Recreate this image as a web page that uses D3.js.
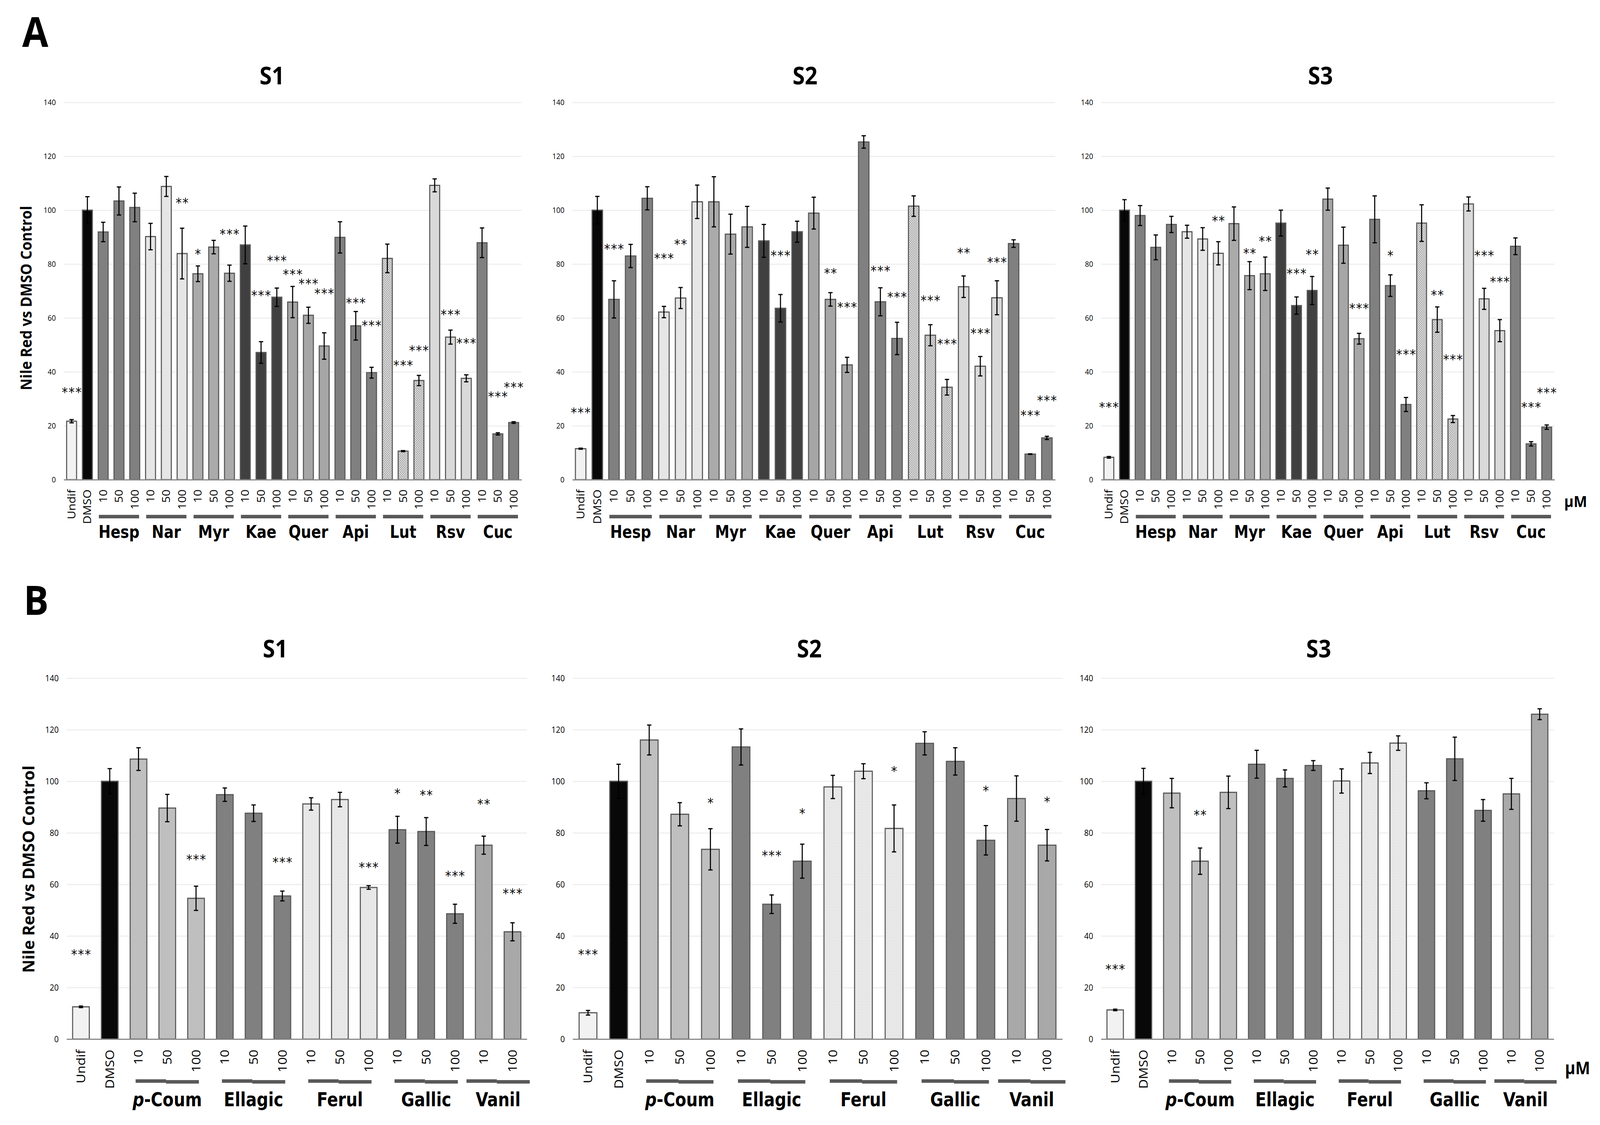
<!DOCTYPE html>
<html>
<head>
<meta charset="utf-8">
<script src="https://cdn.jsdelivr.net/npm/d3@7"></script>
<style>
html, body { margin: 0; padding: 0; background: #fff; overflow: hidden; }
svg { display: block; width: 100vw; height: 100vh; }
.lbl { font-family: "Open Sans", "Noto Sans", sans-serif; fill: #000; }
.bold { font-family: "Open Sans", "Noto Sans", sans-serif; font-weight: bold; fill: #000; }
.grp { font-family: "Liberation Sans Narrow", "DejaVu Sans Condensed", "Open Sans", sans-serif; font-weight: bold; fill: #000; }
.sig { font-family: "DejaVu Sans", sans-serif; fill: #000; letter-spacing: 2px; }
</style>
</head>
<body>
<svg viewBox="0 0 4470 2880" preserveAspectRatio="none"></svg>
<script>
// ---- data ----
const controls = ["Undif", "DMSO"]
const yTicks = [0, 20, 40, 60, 80, 100, 120, 140]

const aGroups = ["Hesp", "Nar", "Myr", "Kae", "Quer", "Api", "Lut", "Rsv", "Cuc"]
const aDoses = ["10", "50", "100"]

const bGroups = ["p-Coum", "Ellagic", "Ferul", "Gallic", "Vanil"]
const bDoses = [["10", "50", "100"], ["10", "50", "100"], ["10", "50", "100"], ["10", "50", "100"], ["10", "100"]]

// A, S1
const aS1 = [21.7, 100, 91.9, 103.4, 101.0, 90.2, 108.8, 83.9, 76.4, 86.3, 76.6, 87.1, 47.2, 67.7, 65.9, 61.0, 49.6, 89.9, 57.1, 39.7, 82.1, 10.6, 36.8, 109.2, 52.9, 37.6, 87.9, 17.0, 21.2]
const aS1Err = [0.6, 5.0, 3.6, 5.2, 5.3, 4.9, 3.7, 9.4, 2.9, 2.5, 3.0, 7.0, 4.0, 3.4, 5.8, 3.0, 4.9, 5.8, 5.3, 2.0, 5.3, 0.2, 1.9, 2.4, 2.6, 1.3, 5.5, 0.4, 0.3]
const aS1Sig = ["***", "", "", "", "", "", "", "**", "*", "", "***", "", "***", "***", "***", "***", "***", "", "***", "***", "", "***", "***", "", "***", "***", "", "***", "***"]
const aS1SigY = [33.5, 0, 0, 0, 0, 0, 0, 103.8, 84.8, 0, 92.2, 0, 69.4, 82.3, 77.3, 73.7, 70.2, 0, 66.7, 58.3, 0, 43.5, 49.0, 0, 62.3, 51.7, 0, 31.9, 35.4]

// A, S2
const aS2 = [11.5, 100, 66.9, 83.0, 104.4, 62.2, 67.4, 103.1, 103.1, 91.1, 93.8, 88.6, 63.6, 92.0, 98.9, 66.9, 42.6, 125.3, 66.0, 52.4, 101.5, 53.6, 34.3, 71.6, 42.1, 67.5, 87.6, 9.5, 15.5]
const aS2Err = [0.2, 5.1, 6.9, 4.3, 4.3, 2.1, 3.9, 6.2, 9.3, 7.4, 7.6, 6.1, 5.1, 3.9, 5.9, 2.5, 2.8, 2.3, 5.2, 6.0, 3.8, 3.9, 2.9, 4.0, 3.6, 6.3, 1.4, 0.1, 0.6]
const aS2Sig = ["***", "", "***", "", "", "***", "**", "", "", "", "", "", "***", "", "", "**", "***", "", "***", "***", "", "***", "***", "**", "***", "***", "", "***", "***"]
const aS2SigY = [25.9, 0, 86.6, 0, 0, 83.2, 88.4, 0, 0, 0, 0, 0, 84.2, 0, 0, 77.7, 65.0, 0, 78.5, 68.8, 0, 67.5, 51.4, 85.2, 55.4, 81.8, 0, 24.9, 30.4]

// A, S3
const aS3 = [8.3, 100, 98.0, 86.2, 94.7, 92.0, 89.3, 84.0, 95.0, 75.7, 76.4, 95.2, 64.6, 70.2, 104.1, 87.0, 52.3, 96.6, 72.0, 27.9, 95.2, 59.4, 22.5, 102.3, 67.1, 55.3, 86.6, 13.3, 19.5]
const aS3Err = [0.3, 3.9, 3.7, 4.6, 3.0, 2.4, 4.2, 4.3, 6.2, 5.2, 6.2, 4.8, 3.2, 5.2, 4.1, 6.7, 2.0, 8.7, 4.0, 2.6, 6.8, 4.7, 1.3, 2.6, 3.9, 4.1, 3.1, 0.8, 0.8]
const aS3Sig = ["***", "", "", "", "", "", "", "**", "", "**", "**", "", "***", "**", "", "", "***", "", "*", "***", "", "**", "***", "", "***", "***", "", "***", "***"]
const aS3SigY = [27.9, 0, 0, 0, 0, 0, 0, 97.1, 0, 85.0, 89.6, 0, 77.6, 84.7, 0, 0, 64.7, 0, 84.2, 47.5, 0, 69.6, 45.6, 0, 84.2, 74.5, 0, 27.9, 33.4]

// B, S1
const bS1 = [12.5, 100, 108.6, 89.6, 54.6, 94.8, 87.6, 55.5, 91.2, 92.9, 58.8, 81.2, 80.5, 48.6, 75.2, 41.6]
const bS1Err = [0.3, 4.9, 4.4, 5.3, 4.7, 2.6, 3.2, 1.9, 2.4, 2.8, 0.7, 5.2, 5.4, 3.7, 3.5, 3.5]
const bS1Sig = ["***", "", "", "", "***", "", "", "***", "", "", "***", "*", "**", "***", "**", "***"]
const bS1SigY = [33.9, 0, 0, 0, 70.7, 0, 0, 69.7, 0, 0, 67.8, 96.3, 95.8, 64.4, 92.3, 57.5]

// B, S2
const bS2 = [10.2, 100, 116.0, 87.2, 73.6, 113.3, 52.3, 69.0, 97.8, 103.9, 81.7, 114.7, 107.7, 77.1, 93.3, 75.2]
const bS2Err = [0.9, 6.6, 5.8, 4.5, 8.0, 7.0, 3.6, 6.6, 4.5, 2.9, 9.1, 4.5, 5.3, 5.7, 8.8, 6.1]
const bS2Sig = ["***", "", "", "", "*", "", "***", "*", "", "", "*", "", "", "*", "", "*"]
const bS2SigY = [34.0, 0, 0, 0, 92.7, 0, 72.3, 88.7, 0, 0, 105.0, 0, 0, 97.4, 0, 93.2]

// B, S3
const bS3 = [11.3, 100, 95.4, 69.0, 95.7, 106.6, 101.1, 106.1, 100.1, 107.1, 114.8, 96.3, 108.7, 88.7, 95.1, 126.0]
const bS3Err = [0.3, 5.0, 5.7, 5.1, 6.3, 5.4, 3.3, 1.9, 4.7, 4.1, 2.8, 3.1, 8.4, 4.2, 6.0, 2.1]
const bS3Sig = ["***", "", "", "**", "", "", "", "", "", "", "", "", "", "", "", ""]
const bS3SigY = [28.2, 0, 0, 88.0, 0, 0, 0, 0, 0, 0, 0, 0, 0, 0, 0, 0]

// ---- categories ----
const aCats = controls.map(c => ({label: c, group: c}))
aGroups.forEach(g => aDoses.forEach(d => aCats.push({label: d, group: g})))
const bCats = controls.map(c => ({label: c, group: c}))
bGroups.forEach((g, gi) => bDoses[gi].forEach(d => bCats.push({label: d, group: g})))

const fills = {
  "Undif": "#f2f2f2", "DMSO": "#080808",
  "Hesp": "#808080", "Nar": "url(#patNar)", "Myr": "url(#patMyr)", "Kae": "#404040",
  "Quer": "#a6a6a6", "Api": "#808080", "Lut": "url(#patLut)", "Rsv": "#d9d9d9", "Cuc": "#808080",
  "p-Coum": "#bfbfbf", "Ellagic": "#808080", "Ferul": "url(#patFerul)", "Gallic": "#808080", "Vanil": "url(#patVanil)"
}

const svg = d3.select("svg")

// ---- patterns ----
const defs = svg.append("defs")
function dotPattern(id, size, bg, fg, dots) {
  const p = defs.append("pattern").attr("id", id).attr("patternUnits", "userSpaceOnUse")
    .attr("width", size).attr("height", size)
  p.append("rect").attr("width", size).attr("height", size).attr("fill", bg)
  dots.forEach(d => p.append("rect").attr("x", d[0]).attr("y", d[1]).attr("width", 1).attr("height", 1).attr("fill", fg))
}
dotPattern("patNar", 4, "#ffffff", "#9a9a9a", [[0, 0], [0, 2], [2, 1], [2, 3]])
dotPattern("patMyr", 4, "#c4c4c4", "#5e5e5e", [[0, 0], [2, 2], [1, 3], [3, 1]])
dotPattern("patFerul", 4, "#f6f6f6", "#a8a8a8", [[0, 0], [2, 2], [1, 3]])
dotPattern("patVanil", 4, "#8c8c8c", "#ffffff", [[1, 0], [1, 2], [3, 1], [3, 3]])
const lut = defs.append("pattern").attr("id", "patLut").attr("patternUnits", "userSpaceOnUse")
  .attr("width", 6).attr("height", 6)
lut.append("rect").attr("width", 6).attr("height", 6).attr("fill", "#e2e2e2")
lut.append("path").attr("d", "M0,0L6,6M6,0L0,6").attr("stroke", "#8a8a8a").attr("stroke-width", 1)

// ---- layout ----
const rows = {
  A: {cats: aCats, groups: aGroups, y0: 1228, yTop: 262, titleY: 216, tickFont: 20, labelFont: 30, labelOff: 25,
      pad: 0.37, lineY: 1318, lineH: 9, lineW: 2.55, groupY: 1377, groupFont: 45, split: false},
  B: {cats: bCats, groups: bGroups, y0: 2660, yTop: 1736, titleY: 1683, tickFont: 22, labelFont: 34, labelOff: 27,
      pad: 0.42, lineY: 2764, lineH: 9, lineW: 2.2, groupY: 2832, groupFont: 50, split: true}
}

const panels = [
  {row: "A", left: 178, right: 1457, title: "S1", tx: 760, vals: aS1, err: aS1Err, sig: aS1Sig, sigY: aS1SigY},
  {row: "A", left: 1599, right: 2948, title: "S2", tx: 2249, vals: aS2, err: aS2Err, sig: aS2Sig, sigY: aS2SigY},
  {row: "A", left: 3076, right: 4343, title: "S3", tx: 3689, vals: aS3, err: aS3Err, sig: aS3Sig, sigY: aS3SigY},
  {row: "B", left: 186, right: 1472, title: "S1", tx: 769, vals: bS1, err: bS1Err, sig: bS1Sig, sigY: bS1SigY},
  {row: "B", left: 1600, right: 2968, title: "S2", tx: 2261, vals: bS2, err: bS2Err, sig: bS2Sig, sigY: bS2SigY},
  {row: "B", left: 3076, right: 4341, title: "S3", tx: 3684, vals: bS3, err: bS3Err, sig: bS3Sig, sigY: bS3SigY}
]

function drawPanel(p) {
  const row = rows[p.row]
  const g = svg.append("g")

  const x = d3.scaleBand()
    .domain(d3.range(row.cats.length))
    .range([p.left, p.right])
    .paddingInner(row.pad)
    .paddingOuter(row.pad / 2)
  const y = d3.scaleLinear().domain([0, 140]).range([row.y0, row.yTop])

  // gridlines + y tick labels
  const yAxis = g.append("g")
    .attr("transform", `translate(${p.left},0)`)
    .call(d3.axisLeft(y).tickValues(yTicks).tickSize(-(p.right - p.left)).tickPadding(22))
  yAxis.select(".domain").remove()
  yAxis.selectAll("line").attr("stroke", "#efefef").attr("stroke-width", 3)
  yAxis.selectAll("text").attr("class", "lbl").style("font-size", row.tickFont + "px")
  yAxis.attr("font-family", null).attr("font-size", null)

  // bars
  g.selectAll("rect.bar")
    .data(p.vals)
    .enter().append("rect")
    .attr("class", "bar")
    .attr("x", (d, i) => x(i))
    .attr("width", x.bandwidth())
    .attr("y", d => y(d))
    .attr("height", d => row.y0 - y(d))
    .attr("fill", (d, i) => fills[row.cats[i].group])
    .attr("stroke", "#5a5a5a")
    .attr("stroke-width", 3)

  // error bars
  const eb = g.selectAll("g.err")
    .data(p.vals)
    .enter().append("g")
    .attr("class", "err")
    .attr("stroke", "#000")
    .attr("stroke-width", 3)
  const cx = i => x(i) + x.bandwidth() / 2
  eb.append("line")
    .attr("x1", (d, i) => cx(i)).attr("x2", (d, i) => cx(i))
    .attr("y1", (d, i) => y(d + p.err[i])).attr("y2", (d, i) => y(d - p.err[i]))
  eb.append("line")
    .attr("x1", (d, i) => cx(i) - 6).attr("x2", (d, i) => cx(i) + 6)
    .attr("y1", (d, i) => y(d + p.err[i])).attr("y2", (d, i) => y(d + p.err[i]))
  eb.append("line")
    .attr("x1", (d, i) => cx(i) - 6).attr("x2", (d, i) => cx(i) + 6)
    .attr("y1", (d, i) => y(d - p.err[i])).attr("y2", (d, i) => y(d - p.err[i]))

  // significance marks
  g.selectAll("text.sig")
    .data(p.sig)
    .enter().append("text")
    .attr("class", "sig")
    .attr("x", (d, i) => cx(i) + 1)
    .attr("y", (d, i) => y(p.sigY[i]) + 19)
    .style("font-size", "34px")
    .style("text-anchor", "middle")
    .text(d => d)

  // x axis
  const xAxis = g.append("g")
    .attr("transform", `translate(0,${row.y0})`)
    .call(d3.axisBottom(x).tickSize(0).tickFormat(i => row.cats[i].label))
  xAxis.attr("font-family", null).attr("font-size", null)
  xAxis.select(".domain").attr("stroke", "#898989").attr("stroke-width", 3)
  xAxis.selectAll("text")
    .attr("class", "lbl")
    .style("font-size", row.labelFont + "px")
    .attr("transform", "rotate(-90)")
    .attr("x", -row.labelOff)
    .attr("y", 0)
    .attr("dy", "0.35em")
    .style("text-anchor", "end")

  // group underlines + labels
  row.groups.forEach(gr => {
    const idx = d3.range(row.cats.length).filter(i => row.cats[i].group === gr)
    const mid = (x(idx[0]) + x(idx[idx.length - 1]) + x.bandwidth()) / 2
    const w = x.step() * row.lineW
    if (row.split) {
      g.append("rect").attr("x", mid - w / 2).attr("y", row.lineY - 1)
        .attr("width", w * 0.48).attr("height", row.lineH).attr("fill", "#595959")
      g.append("rect").attr("x", mid - w / 2 + w * 0.48).attr("y", row.lineY + 1)
        .attr("width", w * 0.52).attr("height", row.lineH).attr("fill", "#595959")
    } else {
      g.append("rect").attr("x", mid - w / 2).attr("y", row.lineY)
        .attr("width", w).attr("height", row.lineH).attr("fill", "#595959")
    }
    const t = g.append("text")
      .attr("class", "grp")
      .attr("x", mid)
      .attr("y", row.groupY)
      .style("font-size", row.groupFont + "px")
      .style("text-anchor", "middle")
    if (gr === "p-Coum") {
      t.append("tspan").style("font-style", "italic").text("p")
      t.append("tspan").text("-Coum")
    } else {
      t.text(gr)
    }
  })

  // panel title
  svg.append("text")
    .attr("class", "bold")
    .attr("x", p.tx)
    .attr("y", row.titleY)
    .style("font-size", "62px")
    .style("text-anchor", "middle")
    .text(p.title)
}

panels.forEach(drawPanel)

// panel letters
svg.append("text").attr("class", "bold").attr("x", 62).attr("y", 120)
  .style("font-size", "106px").text("A")
svg.append("text").attr("class", "bold").attr("x", 66).attr("y", 1574)
  .style("font-size", "104px").text("B")

// y titles
svg.append("text").attr("class", "bold")
  .attr("transform", "translate(88,763) rotate(-90)")
  .attr("textLength", 472).attr("lengthAdjust", "spacingAndGlyphs")
  .style("font-size", "42px").style("text-anchor", "middle")
  .text("Nile Red vs DMSO Control")
svg.append("text").attr("class", "bold")
  .attr("transform", "translate(96,2225) rotate(-90)")
  .attr("textLength", 531).attr("lengthAdjust", "spacingAndGlyphs")
  .style("font-size", "45px").style("text-anchor", "middle")
  .text("Nile Red vs DMSO Control")

// unit labels
svg.append("text").attr("class", "bold").attr("x", 4370).attr("y", 1298)
  .style("font-size", "40px").text("μM")
svg.append("text").attr("class", "bold").attr("x", 4372).attr("y", 2750)
  .style("font-size", "44px").text("μM")
</script>
</body>
</html>
